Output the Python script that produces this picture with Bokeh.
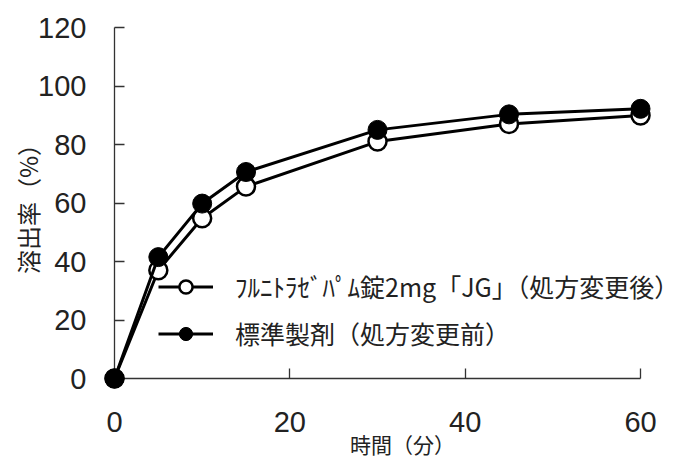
from bokeh.plotting import figure
from bokeh.models import Range1d, Legend, LegendItem, FixedTicker
from bokeh.embed import file_html
from bokeh.resources import INLINE

time_min = [0, 5, 10, 15, 30, 45, 60]
jg_values = [0, 37.0, 54.8, 65.6, 81.0, 87.0, 89.9]
std_values = [0, 41.5, 59.8, 70.6, 85.0, 90.3, 92.2]
x_ticks = [0, 20, 40, 60]
y_ticks = [0, 20, 40, 60, 80, 100, 120]
jg_label = "ﾌﾙﾆﾄﾗｾﾞﾊﾟﾑ錠2mg「JG」（処方変更後）"
std_label = "標準製剤（処方変更前）"
x_title = "時間（分）"
y_title = "溶出率（%）"

JP = "Noto Sans CJK JP"
NUM = "Liberation Sans"

p = figure(frame_width=576, frame_height=351, output_backend="svg",
           toolbar_location=None,
           x_range=Range1d(0, 65.7), y_range=Range1d(0, 120),
           min_border_left=114, min_border_top=27, min_border_right=4,
           min_border_bottom=81)
p.grid.visible = False
p.outline_line_color = None
p.background_fill_color = "white"

for ax, ticks, bounds in ((p.xaxis[0], x_ticks, (0, 60)), (p.yaxis[0], y_ticks, (0, 120))):
    ax.ticker = FixedTicker(ticks=ticks)
    ax.bounds = bounds
    ax.axis_line_color = "#333333"
    ax.axis_line_width = 1.3
    ax.major_tick_line_color = "#333333"
    ax.major_tick_line_width = 1.3
    ax.major_tick_in = 10
    ax.major_tick_out = 0
    ax.minor_tick_in = 0
    ax.minor_tick_out = 0
    ax.major_label_text_font = NUM
    ax.major_label_text_font_size = "29px"
    ax.major_label_text_color = "#222222"
    ax.axis_label_text_font = JP
    ax.axis_label_text_font_style = "normal"
    ax.axis_label_text_color = "#222222"

p.xaxis[0].major_label_standoff = 33
p.yaxis[0].major_label_standoff = 28
p.xaxis[0].axis_label = x_title
p.yaxis[0].axis_label = y_title
p.xaxis[0].axis_label_text_font_size = "21px"
p.yaxis[0].axis_label_text_font_size = "24px"
p.xaxis[0].axis_label_standoff = -6
p.yaxis[0].axis_label_standoff = -10

l1 = p.line(time_min, jg_values, line_color="black", line_width=3, level="overlay")
m1 = p.scatter(time_min, jg_values, size=18, marker="circle", fill_color="white",
               line_color="black", line_width=2.5, level="overlay")
l2 = p.line(time_min, std_values, line_color="black", line_width=3, level="overlay")
m2 = p.scatter(time_min, std_values, size=19, marker="circle", fill_color="black",
               line_color="black", line_width=1, level="overlay")

legend = Legend(items=[LegendItem(label=jg_label, renderers=[l1, m1]),
                       LegendItem(label=std_label, renderers=[l2, m2])],
                location=(44, 27), orientation="vertical",
                label_text_font=JP, label_text_font_size="25px",
                label_text_color="#222222",
                glyph_width=55, glyph_height=33, spacing=11,
                label_standoff=22, padding=4, margin=0,
                border_line_color=None, background_fill_alpha=0)
p.add_layout(legend)

open("out.html", "w").write(file_html(p, INLINE))
